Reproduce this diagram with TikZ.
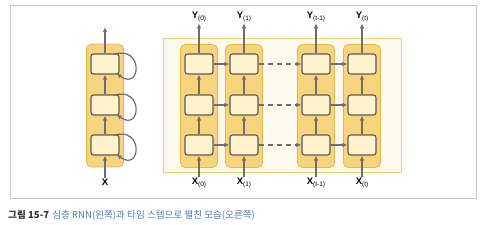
\documentclass[tikz,border=0pt]{standalone}
\usepackage{fontspec}
\setmainfont{Liberation Sans}
\newfontfamily\krfont{Noto Sans CJK KR}
\usepackage{xcolor}
\usetikzlibrary{positioning,calc,arrows.meta}

\definecolor{panelfill}{HTML}{F9D47E}
\definecolor{paneldraw}{HTML}{E8B64A}
\definecolor{cellfill}{HTML}{FFF2CC}
\definecolor{celldraw}{HTML}{5A5A5A}
\definecolor{arrowgray}{HTML}{6E6E6E}
\definecolor{bgfill}{HTML}{FFF8EC}
\definecolor{bgdraw}{HTML}{F2CE7E}
\definecolor{framegray}{HTML}{C8C8C8}
\definecolor{capblue}{HTML}{4A7DB8}

\tikzset{
  panel/.style={draw=paneldraw, fill=panelfill, line width=0.8pt, rounded corners=5pt,
    minimum width=37pt, minimum height=123pt, inner sep=0pt},
  cell/.style={draw=celldraw, fill=cellfill, line width=1.1pt, rounded corners=2.5pt,
    minimum width=28pt, minimum height=20pt, inner sep=0pt},
  arr/.style={draw=arrowgray, line width=1.2pt, -{Latex[length=5pt,width=4.5pt]}},
  lbl/.style={inner sep=1pt, font=\fontsize{9.5}{10}\selectfont},
}
\newcommand{\sub}[2]{\textbf{#1}\raisebox{-0.45ex}{\fontsize{6.5}{7}\selectfont #2}}

\begin{document}
\begin{tikzpicture}[x=1pt, y=-1pt]
  \useasboundingbox (0,0) rectangle (485,225);
  % Frame
  \draw[framegray, line width=0.8pt] (10,5) rectangle (476,198);
  \draw[bgdraw, fill=bgfill, line width=0.7pt] (163,38) rectangle (401,172);

  % Deep RNN (left)
  \node[panel] (lp) at (105,105.5) {};
  \node[cell] (l2) at (105,64) {};
  \node[cell] (l1) at (105,105) {};
  \node[cell] (l0) at (105,145) {};
  \coordinate (ltop) at (105,27);
  \node[lbl] (lx) at (105,182) {\textbf{X}};
  \draw[arr] (lx) -- (l0);
  \draw[arr] (l0) -- (l1);
  \draw[arr] (l1) -- (l2);
  \draw[arr] (l2) -- (ltop);
  \foreach \k in {0,1,2}{
    \draw[arr] ($(l\k.north east)+(-6,1)$) .. controls +(30,-10) and +(25,18) .. ($(l\k.south east)+(-3,-1)$);
  }

  % Unrolled through time (right)
  \foreach \c/\xc/\s in {0/199/(0), 1/244/(1), 2/316/(t-1), 3/362/(t)}{
    \node[panel] (p\c) at (\xc,106) {};
    \node[cell] (c\c2) at (\xc,64) {};
    \node[cell] (c\c1) at (\xc,105) {};
    \node[cell] (c\c0) at (\xc,145) {};
    \node[lbl] (y\c) at (\xc,17) {\sub{Y}{\s}};
    \node[lbl] (x\c) at (\xc,183) {\sub{X}{\s}};
    \draw[arr] (x\c) -- (c\c0);
    \draw[arr] (c\c0) -- (c\c1);
    \draw[arr] (c\c1) -- (c\c2);
    \draw[arr] (c\c2) -- (y\c);
  }
  \foreach \k in {0,1,2}{
    \draw[arr] (c0\k) -- (c1\k);
    \draw[arr, dashed, dash pattern=on 5pt off 4pt] (c1\k) -- (c2\k);
    \draw[arr] (c2\k) -- (c3\k);
  }

  % Caption
  \node[anchor=west, inner sep=0pt, font=\krfont\fontsize{9.6}{11}\selectfont] (cap) at (8,215)
    {\textcolor{black!80}{\bfseries 그림 15-7}\hspace{3pt}\textcolor{capblue}{심층 RNN(왼쪽)과 타임 스텝으로 펼친 모습(오른쪽)}};
\end{tikzpicture}
\end{document}
